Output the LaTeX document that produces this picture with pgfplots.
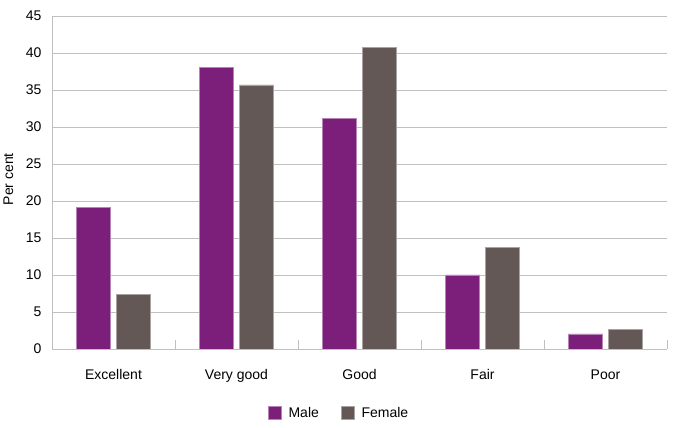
\documentclass[border=0pt]{standalone}
\usepackage{pgfplots}
\pgfplotsset{compat=1.18}
\usepackage{fontspec}
\setmainfont{Liberation Sans}
\definecolor{male}{RGB}{123,31,123}
\definecolor{female}{RGB}{99,88,86}
\definecolor{gridc}{RGB}{192,192,192}
\begin{document}
\begin{tikzpicture}[x=1pt,y=1pt]
\path[use as bounding box] (0,0) rectangle (675,428);
\begin{axis}[
  at={(52pt,79pt)}, anchor=south west,
  scale only axis, width=615pt, height=333pt,
  font=\fontsize{14}{16}\selectfont,
  /pgf/number format/assume math mode=true,
  ybar=6pt, bar width=34pt,
  xmin=-0.5, xmax=4.5, ymin=0, ymax=45,
  xtick={0,1,2,3,4},
  xticklabels={Excellent,Very good,Good,Fair,Poor},
  minor xtick={-0.5,0.5,1.5,2.5,3.5,4.5},
  major x tick style={draw=none},
  minor tick length=9pt,
  tick align=inside,
  minor x tick style={gridc, line width=0.8pt},
  ytick={0,5,...,45},
  ytick style={draw=none},
  ymajorgrids, major grid style={gridc, line width=0.8pt},
  axis x line*=bottom, axis y line*=left,
  axis line style={gridc, line width=0.8pt, -},
  xticklabel style={yshift=-17pt},
  yticklabel style={xshift=-7pt},
  ylabel={Per cent},
  ylabel style={at={(axis description cs:-0.071,0.51)}, anchor=center},
  legend columns=2,
  legend style={draw=none, fill=none, at={(axis description cs:0.346,-0.192)}, anchor=west,
    /tikz/every even column/.append style={column sep=20pt}},
  legend image code/.code={\draw[#1] (0pt,-6.5pt) rectangle (13pt,6.5pt); \path (18pt,0pt);},
]
\addplot[fill=male, draw=male!55!white, line width=0.6pt] coordinates {(0,19.1) (1,38.1) (2,31.2) (3,10.0) (4,2.05)};
\addplot[fill=female, draw=female!55!white, line width=0.6pt] coordinates {(0,7.4) (1,35.7) (2,40.8) (3,13.7) (4,2.6)};
\legend{Male,Female}
\end{axis}
\end{tikzpicture}
\end{document}
